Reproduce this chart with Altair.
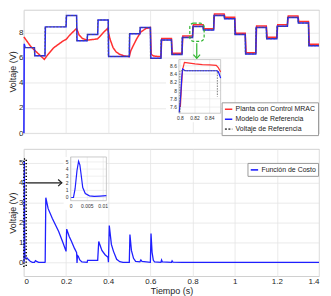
import altair as alt
import pandas as pd

# ---------------- data ----------------
# reference voltage steps (start time of each 0.05 s interval, level in V)
step_t = [0.00, 0.05, 0.10, 0.15, 0.20, 0.25, 0.30, 0.35, 0.40, 0.45, 0.50, 0.55, 0.60, 0.65,
          0.70, 0.75, 0.80, 0.85, 0.90, 0.95, 1.00, 1.05, 1.10, 1.15, 1.20, 1.25, 1.30, 1.35]
ref_levels = [6.8, 6.15, 8.45, 8.45, 9.35, 7.35, 7.85, 9.0, 6.1, 6.1, 7.9, 8.4, 5.95, 7.4,
              6.25, 7.6, 8.48, 8.2, 9.35, 9.1, 7.85, 6.3, 8.4, 7.5, 8.5, 9.2, 8.75, 6.95]
t_end = 1.4

# reference model start-up transient
blue_start_t = [0.0, 0.0015, 0.006]
blue_start_v = [0.0, 7.1, 6.8]

# plant with MRAC: adaptation transient (0 - 0.65 s)
red_t = [0.0, 0.032, 0.063, 0.097, 0.109, 0.14, 0.185, 0.2, 0.216, 0.25, 0.262, 0.277, 0.3,
         0.33, 0.35, 0.377, 0.397, 0.408, 0.423, 0.438, 0.454, 0.477, 0.5, 0.507, 0.52,
         0.535, 0.555, 0.58, 0.6, 0.604, 0.615, 0.635, 0.65]
red_v = [7.65, 6.9, 6.4, 5.87, 6.14, 6.77, 7.32, 7.45, 7.77, 8.33, 7.8, 7.53, 7.4,
         7.45, 7.5, 8.0, 8.33, 7.5, 6.8, 6.45, 6.27, 6.14, 6.09, 6.55, 7.0,
         7.5, 8.05, 8.33, 8.4, 6.27, 6.14, 6.1, 6.08]
# plant after adaptation: levels per interval from 0.65 s
red_step_t = [0.65, 0.70, 0.75, 0.80, 0.85, 0.90, 0.95, 1.00, 1.05, 1.10, 1.15, 1.20, 1.25, 1.30, 1.35]
red_step_v = [7.52, 6.35, 7.72, 8.62, 8.3, 9.48, 9.22, 7.95, 6.4, 8.52, 7.62, 8.62, 9.32, 8.88, 7.06]

series_names = ["Planta con Control MRAC", "Modelo de Referencia", "Voltaje de Referencia"]
cost_name = ["Función de Costo"]

# zoom inset (top)
in_red_t = [0.8, 0.8015, 0.803, 0.8055, 0.81, 0.82, 0.83, 0.84, 0.849, 0.852, 0.855]
in_red_v = [7.6, 8.1, 8.5, 8.68, 8.67, 8.645, 8.63, 8.62, 8.61, 8.55, 8.45]
in_blue_t = [0.7985, 0.8005, 0.802, 0.803, 0.805, 0.807, 0.85, 0.852, 0.855]
in_blue_v = [7.47, 7.9, 8.35, 8.52, 8.5, 8.48, 8.48, 8.45, 8.3]
in_ref_t = [0.7993, 0.7993, 0.8505, 0.8505]
in_ref_v = [7.47, 8.48, 8.48, 7.85]
in_top_xticks = [0.8, 0.82, 0.84]
in_top_xlabels = ["0.8", "0.82", "0.84"]
in_top_yticks = [7.6, 7.8, 8.0, 8.2, 8.4, 8.6]
in_top_ylabels = ["7.6", "7.8", "8", "8.2", "8.4", "8.6"]

# cost function (bottom)
cost_t = [0.0, 0.001, 0.0023, 0.0031, 0.0036, 0.0044, 0.0057, 0.009, 0.015, 0.02, 0.03, 0.04,
          0.05, 0.055, 0.06, 0.07, 0.1, 0.101, 0.104, 0.115, 0.135, 0.165, 0.185, 0.2,
          0.203, 0.215, 0.226, 0.24, 0.25, 0.252, 0.254, 0.258, 0.265, 0.275, 0.3, 0.302,
          0.35, 0.355, 0.37, 0.385, 0.399, 0.401, 0.405, 0.415, 0.425, 0.44, 0.455, 0.47,
          0.5, 0.503, 0.51, 0.52, 0.53, 0.55, 0.555, 0.56, 0.6, 0.603, 0.608, 0.614, 0.62,
          0.65, 0.653, 0.657, 0.7, 0.703, 0.707, 0.75, 0.8, 1.0, 1.4]
cost_v = [0.0, 0.05, 5.1, 3.2, 1.4, 0.55, 0.23, 0.2, 0.22, 0.15, 0.05, 0.0,
          0.0, 0.08, 0.05, 0.0, 0.0, 0.05, 3.25, 2.7, 2.2, 1.55, 1.0, 0.55,
          1.67, 1.3, 1.05, 0.7, 0.49, -0.03, 0.35, 0.3, 0.12, 0.02, 0.0, 0.1,
          0.1, 1.05, 0.6, 0.38, 0.25, 0.0, 1.85, 0.9, 0.55, 0.15, 0.03, 0.0,
          0.0, 1.4, 0.6, 0.2, 0.05, 0.02, 0.12, 0.05, 0.0, 1.45, 0.5, 0.1, 0.02,
          0.0, 0.12, 0.02, 0.0, 0.07, 0.01, 0.0, 0.0, 0.0, 0.0]
in_cost_t = [0.0, 0.0007, 0.0012, 0.0018, 0.0023, 0.0027, 0.0031, 0.0036, 0.0044, 0.0057,
             0.0072, 0.009, 0.011]
in_cost_v = [0.0, 0.02, 1.2, 3.8, 5.1, 4.6, 3.2, 1.4, 0.55, 0.23, 0.16, 0.2, 0.25]
in_bot_xticks = [0.0, 0.005, 0.01]
in_bot_xlabels = ["0", "0.005", "0.01"]
in_bot_yticks = [0, 1, 2, 3, 4, 5]
in_bot_ylabels = ["0", "1", "2", "3", "4", "5"]

x_ticks = [0, 0.2, 0.4, 0.6, 0.8, 1.0, 1.2, 1.4]

# annotations (data coordinates)
green_box = {"t": [0.787], "t2": [0.855], "v": [7.3], "v2": [8.75]}
green_arrow = {"t": [0.82], "v": [7.15], "v2": [5.95]}
green_head = {"t": [0.82], "v": [6.08]}
black_box = {"t": [0.0], "t2": [0.011], "v": [-0.2], "v2": [5.2]}
black_arrow = {"t": [0.015], "t2": [0.18], "v": [4.0]}
black_head = {"t": [0.172], "v": [4.0]}

# ---------------- layout ----------------
W = 297
H1 = 124
H2 = 128
RED = "#ff3030"
BLUE = "#1f1fff"
GREY = "#5a5a5a"
GREEN = "#2fb52f"


def step_points(times, levels, end, rise):
    pts = []
    for i, (t, v) in enumerate(zip(times, levels)):
        t_next = times[i + 1] if i + 1 < len(times) else end
        pts.append((t + rise, v))
        pts.append((t_next, v))
    return pts


blue_pts = list(zip(blue_start_t, blue_start_v)) + [(step_t[1], ref_levels[0])] + \
    step_points(step_t[1:], ref_levels[1:], t_end, 0.002)
red_pts = list(zip(red_t, red_v)) + step_points(red_step_t, red_step_v, t_end, 0.004)
ref_pts = list(zip(step_t, ref_levels)) + [(t_end, ref_levels[-1])]

df_red = pd.DataFrame(red_pts, columns=["t", "v"]).assign(serie=series_names[0])
df_blue = pd.DataFrame(blue_pts, columns=["t", "v"]).assign(serie=series_names[1])
df_ref = pd.DataFrame(ref_pts, columns=["t", "v"]).assign(serie=series_names[2])

x_scale = alt.Scale(domain=[0, 1.4], nice=False, zero=False)
x_top = alt.X("t:Q", scale=x_scale,
              axis=alt.Axis(values=x_ticks, labels=False, title=None, grid=True))
y_top = alt.Y("v:Q", scale=alt.Scale(domain=[0, 9.8], nice=False, zero=False),
              axis=alt.Axis(values=[0, 2, 4, 6, 8], title="Voltaje (V)", format="~g"))

legend_top = alt.Legend(title=None, orient="none", legendX=199, legendY=93,
                        labelFontSize=7, symbolSize=55, symbolStrokeWidth=1.6,
                        symbolType="stroke", strokeColor="#9a9a9a", fillColor="white",
                        padding=2, rowPadding=1, labelOffset=2, labelLimit=200,
                        labelColor="#222")
col_top = alt.Color("serie:N", scale=alt.Scale(domain=series_names, range=[RED, BLUE, GREY]),
                    legend=legend_top)
dash_top = alt.StrokeDash("serie:N", scale=alt.Scale(domain=series_names,
                                                     range=[[1, 0], [1, 0], [2, 1.5]]),
                          legend=legend_top)

l_red = alt.Chart(df_red).mark_line(strokeWidth=1.5).encode(x=x_top, y=y_top, color=col_top, strokeDash=dash_top)
l_blue = alt.Chart(df_blue).mark_line(strokeWidth=1.5).encode(x=x_top, y=y_top, color=col_top, strokeDash=dash_top)
l_ref = alt.Chart(df_ref).mark_line(strokeWidth=0.9, interpolate="step-after").encode(
    x=x_top, y=y_top, color=col_top, strokeDash=dash_top)

g_box = alt.Chart(pd.DataFrame(green_box)).mark_rect(
    fillOpacity=0, stroke=GREEN, strokeWidth=1.2, strokeDash=[3, 2], cornerRadius=4).encode(
    x=x_top, x2="t2:Q", y=y_top, y2="v2:Q")
g_arrow = alt.Chart(pd.DataFrame(green_arrow)).mark_rule(color=GREEN, strokeWidth=1.2).encode(
    x=x_top, y=y_top, y2="v2:Q")
g_head = alt.Chart(pd.DataFrame(green_head)).mark_point(
    shape="M-1,-0.6L0,0.5L1,-0.6", filled=False, stroke=GREEN, strokeWidth=1.2, size=45, opacity=1).encode(
    x=x_top, y=y_top)

main_top = alt.layer(l_red, l_blue, l_ref, g_box, g_arrow, g_head)

# ---- top inset ----
xi = alt.X("t:Q", scale=alt.Scale(domain=[0.798, 0.855], range=[156, 198], nice=False, zero=False), axis=None)
yi = alt.Y("v:Q", scale=alt.Scale(domain=[7.45, 8.75], range=[104, 50], nice=False, zero=False), axis=None)
frame_top = pd.DataFrame({"t": [0.798], "t2": [0.855], "v": [7.45], "v2": [8.75]})
i_bg = alt.Chart(frame_top).mark_rect(fill="white", xOffset=-13, yOffset=9).encode(x=xi, x2="t2:Q", y=yi, y2="v2:Q")
i_gx = alt.Chart(pd.DataFrame({"t": in_top_xticks, "v": 7.45, "v2": 8.75})).mark_rule(
    color="#e4e4e4", strokeWidth=0.6).encode(x=xi, y=yi, y2="v2:Q")
i_gy = alt.Chart(pd.DataFrame({"v": in_top_yticks, "t": 0.798, "t2": 0.855})).mark_rule(
    color="#e4e4e4", strokeWidth=0.6).encode(x=xi, x2="t2:Q", y=yi)
i_frame = alt.Chart(frame_top).mark_rect(fillOpacity=0, stroke="#b5b5b5", strokeWidth=0.7).encode(
    x=xi, x2="t2:Q", y=yi, y2="v2:Q")
i_red = alt.Chart(pd.DataFrame({"t": in_red_t, "v": in_red_v})).mark_line(color=RED, strokeWidth=1.2).encode(x=xi, y=yi)
i_blue = alt.Chart(pd.DataFrame({"t": in_blue_t, "v": in_blue_v})).mark_line(color=BLUE, strokeWidth=1.2).encode(x=xi, y=yi)
i_ref = alt.Chart(pd.DataFrame({"t": in_ref_t, "v": in_ref_v, "i": range(len(in_ref_t))})).mark_line(
    color=GREY, strokeWidth=0.8, strokeDash=[1.5, 1.2]).encode(x=xi, y=yi, order="i:Q")
i_xl = alt.Chart(pd.DataFrame({"t": in_top_xticks, "v": 7.45, "lab": in_top_xlabels})).mark_text(
    fontSize=5, baseline="top", dy=3, color="#333").encode(x=xi, y=yi, text="lab:N")
i_yl = alt.Chart(pd.DataFrame({"t": 0.798, "v": in_top_yticks, "lab": in_top_ylabels})).mark_text(
    fontSize=5, align="right", baseline="middle", dx=-2, color="#333").encode(x=xi, y=yi, text="lab:N")
inset_top = alt.layer(i_bg, i_gx, i_gy, i_frame, i_red, i_blue, i_ref, i_xl, i_yl)

top = alt.layer(main_top, inset_top).resolve_scale(x="independent", y="independent").properties(
    width=W, height=H1)

# ---------------- bottom panel ----------------
x_bot = alt.X("t:Q", scale=x_scale,
              axis=alt.Axis(values=x_ticks, title="Tiempo (s)", format="~g", grid=True))
y_bot = alt.Y("v:Q", scale=alt.Scale(domain=[-0.7, 5.7], nice=False, zero=False),
              axis=alt.Axis(values=[0, 1, 2, 3, 4, 5], title="Voltaje (V)", format="~g"))
legend_bot = alt.Legend(title=None, orient="none", legendX=225, legendY=14,
                        labelFontSize=7, symbolSize=55, symbolStrokeWidth=1.6,
                        symbolType="stroke", strokeColor="#9a9a9a", fillColor="white",
                        padding=2, labelOffset=2, labelLimit=200, labelColor="#222")
df_cost = pd.DataFrame({"t": cost_t, "v": cost_v}).assign(costo=cost_name[0])
b_line = alt.Chart(df_cost).mark_line(strokeWidth=1.3).encode(
    x=x_bot, y=y_bot,
    color=alt.Color("costo:N", scale=alt.Scale(domain=cost_name, range=[BLUE]), legend=legend_bot))
b_box = alt.Chart(pd.DataFrame(black_box)).mark_rect(
    fillOpacity=0, stroke="black", strokeWidth=1.5, strokeDash=[1.2, 2]).encode(
    x=x_bot, x2="t2:Q", y=y_bot, y2="v2:Q")
b_arrow = alt.Chart(pd.DataFrame(black_arrow)).mark_rule(color="#222", strokeWidth=1.2).encode(
    x=x_bot, x2="t2:Q", y=y_bot)
b_head = alt.Chart(pd.DataFrame(black_head)).mark_point(
    shape="M-0.6,-1L0.5,0L-0.6,1", filled=False, stroke="#222", strokeWidth=1.2, size=45, opacity=1).encode(
    x=x_bot, y=y_bot)
main_bot = alt.layer(b_line, b_box, b_arrow, b_head)

xb = alt.X("t:Q", scale=alt.Scale(domain=[-0.0002, 0.011], range=[47, 83], nice=False, zero=False), axis=None)
yb = alt.Y("v:Q", scale=alt.Scale(domain=[-0.45, 5.7], range=[52, 8], nice=False, zero=False), axis=None)
frame_bot = pd.DataFrame({"t": [-0.0002], "t2": [0.011], "v": [-0.45], "v2": [5.7]})
j_bg = alt.Chart(frame_bot).mark_rect(fill="white", xOffset=-7, yOffset=9).encode(x=xb, x2="t2:Q", y=yb, y2="v2:Q")
j_gx = alt.Chart(pd.DataFrame({"t": in_bot_xticks, "v": -0.45, "v2": 5.7})).mark_rule(
    color="#e4e4e4", strokeWidth=0.6).encode(x=xb, y=yb, y2="v2:Q")
j_gy = alt.Chart(pd.DataFrame({"v": in_bot_yticks, "t": -0.0002, "t2": 0.011})).mark_rule(
    color="#e4e4e4", strokeWidth=0.6).encode(x=xb, x2="t2:Q", y=yb)
j_frame = alt.Chart(frame_bot).mark_rect(fillOpacity=0, stroke="#b5b5b5", strokeWidth=0.7).encode(
    x=xb, x2="t2:Q", y=yb, y2="v2:Q")
j_line = alt.Chart(pd.DataFrame({"t": in_cost_t, "v": in_cost_v})).mark_line(
    color=BLUE, strokeWidth=1.2).encode(x=xb, y=yb)
j_xl = alt.Chart(pd.DataFrame({"t": in_bot_xticks, "v": -0.45, "lab": in_bot_xlabels})).mark_text(
    fontSize=5, baseline="top", dy=3, color="#333").encode(x=xb, y=yb, text="lab:N")
j_yl = alt.Chart(pd.DataFrame({"t": -0.0002, "v": in_bot_yticks, "lab": in_bot_ylabels})).mark_text(
    fontSize=5, align="right", baseline="middle", dx=-2, color="#333").encode(x=xb, y=yb, text="lab:N")
inset_bot = alt.layer(j_bg, j_gx, j_gy, j_frame, j_line, j_xl, j_yl)

bottom = alt.layer(main_bot, inset_bot).resolve_scale(x="independent", y="independent").properties(
    width=W, height=H2)

chart = alt.vconcat(top, bottom, spacing=10).resolve_scale(
    color="independent", strokeDash="independent"
).resolve_legend(color="independent", strokeDash="independent").configure(
    font="Liberation Sans", padding=0
).configure_axis(
    labelFontSize=8, titleFontSize=9, titleFontWeight="normal", labelColor="#262626",
    titleColor="#262626", gridColor="#e4e4e4", gridWidth=0.8, domain=False, ticks=False,
    labelPadding=1, titlePadding=1
).configure_view(stroke="#c4c4c4", strokeWidth=0.8)

chart.save("out.html", embed_options={"renderer": "svg", "actions": False})
